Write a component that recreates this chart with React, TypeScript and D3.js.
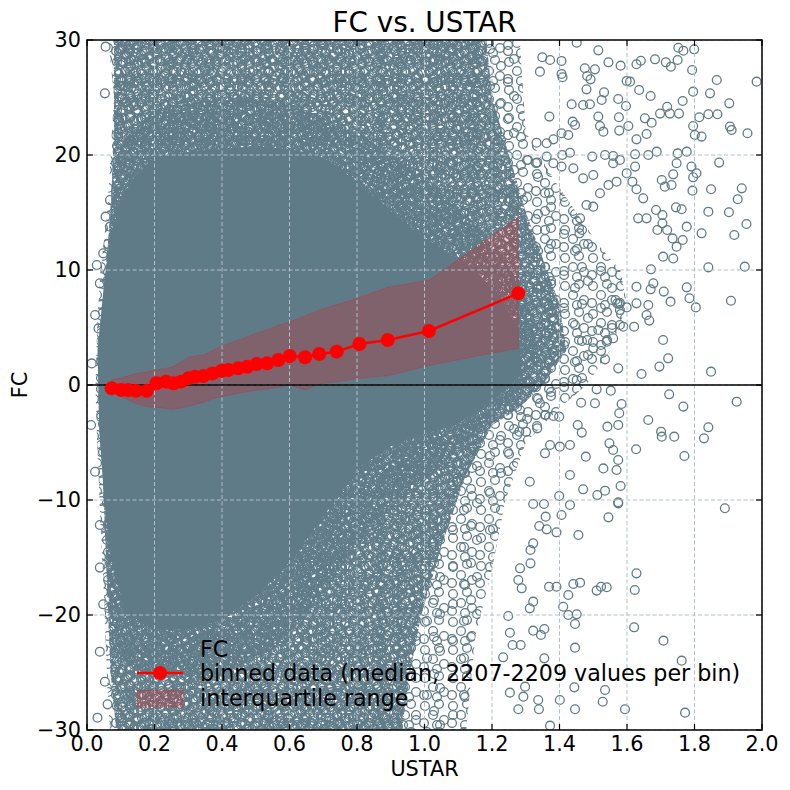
import * as d3 from 'd3';
import React from 'react';

// binned medians and quartiles
const USTAR_BIN = [0.073, 0.101, 0.122, 0.145, 0.177, 0.206, 0.234, 0.256, 0.278, 0.3, 0.32, 0.345, 0.372, 0.399, 0.419, 0.448, 0.475, 0.503, 0.534, 0.567, 0.601, 0.646, 0.688, 0.74, 0.807, 0.891, 1.013, 1.278];
const FC_MEDIAN = [-0.29, -0.43, -0.43, -0.5, -0.5, 0.15, 0.29, 0.15, 0.29, 0.58, 0.72, 0.78, 1.01, 1.24, 1.3, 1.45, 1.59, 1.83, 1.89, 2.17, 2.52, 2.41, 2.7, 2.9, 3.57, 3.91, 4.7, 7.97];
const FC_Q25 = [-0.6, -1.0, -1.3, -1.6, -1.9, -1.95, -2.05, -2.12, -2.0, -1.85, -1.7, -1.5, -1.2, -1.0, -0.9, -0.72, -0.6, -0.45, -0.35, -0.2, 0.0, -0.43, 0.1, 0.29, 0.58, 0.8, 1.7, 3.2];
const FC_Q75 = [0.45, 0.6, 0.8, 1.0, 1.15, 1.3, 1.45, 1.6, 2.0, 2.4, 2.55, 2.6, 3.0, 3.35, 3.6, 3.9, 4.2, 4.5, 4.8, 5.2, 5.5, 6.0, 6.5, 7.0, 7.6, 8.5, 9.1, 14.6];

// where the raw points are so many they merge into a solid mass [USTAR, FC]
const CORE_OUTLINE: [number, number][] = [
  [0.04, 3], [0.06, 9], [0.08, 13], [0.11, 16], [0.15, 18], [0.2, 19.5], [0.3, 20], [0.5, 20.5], [0.65, 20],
  [0.75, 18.5], [0.85, 16], [0.95, 13.5], [1.05, 11.5], [1.15, 9.5], [1.22, 7.5], [1.27, 4.5], [1.28, 1],
  [1.2, -1], [1.1, -3], [1.0, -4], [0.9, -5], [0.8, -7], [0.7, -11], [0.6, -15], [0.5, -18], [0.4, -20],
  [0.3, -21], [0.2, -21], [0.12, -19.5], [0.08, -15], [0.06, -10], [0.045, -4],
];
// very thick tangle of rings hugging the core
const INNER_OUTLINE: [number, number][] = [
  [0.04, 0], [0.05, 8], [0.07, 15], [0.1, 21], [0.2, 24], [0.4, 25], [0.6, 24.5], [0.8, 22], [0.95, 19],
  [1.1, 15.5], [1.2, 12.5], [1.3, 8], [1.34, 3], [1.3, 0], [1.2, -3], [1.05, -7], [0.95, -9.5], [0.85, -12],
  [0.75, -16], [0.65, -20], [0.55, -23], [0.4, -25], [0.2, -25.5], [0.1, -24], [0.065, -19], [0.05, -10],
];
// thick tangle of rings
const DENSE_OUTLINE: [number, number][] = [
  [0.08, 31], [1.18, 31], [1.2, 25], [1.25, 20], [1.3, 15], [1.35, 11], [1.4, 7], [1.42, 3], [1.35, 0],
  [1.28, -2], [1.2, -3.5], [1.12, -8], [1.05, -14], [0.99, -20], [0.95, -26], [0.93, -31], [0.09, -31],
  [0.07, -25], [0.06, -18], [0.05, -10], [0.04, 0], [0.05, 8], [0.07, 15], [0.08, 22],
];
// looser rings around it
const MEDIUM_OUTLINE: [number, number][] = [
  [0.06, 31], [1.28, 31], [1.3, 22], [1.38, 18], [1.45, 15], [1.52, 12], [1.58, 10], [1.6, 7], [1.55, 3],
  [1.48, 0], [1.4, -2], [1.3, -5], [1.24, -10], [1.2, -16], [1.15, -22], [1.12, -31], [0.07, -31],
  [0.06, -26], [0.05, -18], [0.04, -12], [0.03, -5], [0.025, 0], [0.03, 5], [0.04, 10], [0.06, 15],
  [0.07, 20], [0.08, 25],
];

// individual points that stand apart [USTAR, FC]
const SPARSE_POINTS: [number, number][] = [
  [1.515, 29.1], [1.451, 29.77], [1.349, 28.5], [1.372, 28.26], [1.406, 28.18], [1.342, 27.25], [1.406, 27.05],
  [1.409, 26.76], [1.475, 27.54], [1.505, 27.45], [1.482, 26.87], [1.492, 26.58], [1.545, 28.06], [1.581, 27.77],
  [1.628, 27.89], [1.641, 28.2], [1.683, 28.32], [1.715, 28.06], [1.73, 27.68], [1.75, 28.26], [1.752, 29.33],
  [1.767, 29.07], [1.799, 29.19], [1.793, 27.39], [1.866, 26.52], [1.984, 26.38], [1.599, 26.44], [1.609, 26.38],
  [1.636, 25.65], [1.67, 25.13], [1.796, 25.51], [1.846, 25.36], [1.903, 24.49], [1.905, 22.47], [1.957, 21.89],
  [1.91, 22.18], [1.841, 23.54], [1.868, 23.54], [1.814, 23.28], [1.796, 22.52], [1.801, 21.74], [1.821, 21.6],
  [1.765, 24.7], [1.719, 24.2], [1.727, 23.6], [1.754, 23.6], [1.698, 23.6], [1.653, 23.19], [1.673, 22.81],
  [1.48, 25.71], [1.532, 25.45], [1.525, 24.78], [1.47, 24.35], [1.49, 24.41], [1.436, 24.41], [1.515, 23.34],
  [1.52, 22.52], [1.53, 22.03], [1.574, 24.87], [1.597, 24.26], [1.577, 22.12], [1.604, 22.52], [1.576, 23.28],
  [1.628, 21.36], [1.658, 21.83], [1.688, 20.29], [1.663, 20.0], [1.624, 20.06], [1.559, 19.91], [1.535, 20.0],
  [1.497, 19.86], [1.431, 20.2], [1.408, 20.0], [1.37, 23.34], [1.439, 22.9], [1.446, 22.61], [1.406, 21.89],
  [1.426, 21.74], [1.382, 21.36], [1.332, 21.07], [1.362, 21.02], [1.334, 19.34], [1.362, 19.86], [1.382, 19.28],
  [1.406, 18.99], [1.441, 18.84], [1.47, 17.97], [1.5, 18.26], [1.559, 19.28], [1.579, 19.57], [1.599, 18.41],
  [1.624, 18.99], [1.569, 17.68], [1.52, 16.67], [1.545, 17.39], [1.48, 15.65], [1.5, 15.51], [1.461, 14.49],
  [1.459, 13.19], [1.616, 17.68], [1.628, 17.02], [1.648, 16.23], [1.703, 17.83], [1.712, 17.25], [1.732, 17.39],
  [1.747, 19.28], [1.75, 20.14], [1.777, 20.29], [1.737, 18.32], [1.791, 18.99], [1.796, 18.06], [1.806, 18.41],
  [1.849, 17.02], [1.873, 19.34], [1.794, 16.9], [1.745, 15.45], [1.762, 15.28], [1.686, 15.22], [1.705, 14.78],
  [1.633, 14.49], [1.658, 14.49], [1.705, 14.06], [1.69, 13.48], [1.719, 13.48], [1.735, 12.75], [1.765, 12.61],
  [1.747, 12.03], [1.821, 13.19], [1.841, 15.07], [1.902, 15.02], [1.94, 17.1], [1.928, 16.15], [1.954, 14.0],
  [1.918, 13.04], [1.777, 13.77],
  [1.841, 10.23], [1.949, 10.29], [1.777, 8.49], [1.785, 7.54], [1.804, 6.75], [1.729, 7.25], [1.709, 8.12],
  [1.908, 7.33], [1.707, 3.91], [1.722, 2.32], [1.696, 1.6], [1.643, 0.96], [1.849, 1.16], [1.574, 1.45],
  [1.535, 2.23], [1.621, 5.07], [1.666, 5.6], [1.658, 6.09], [1.663, 6.96], [1.628, 7.1], [1.599, 6.75],
  [1.579, 6.52], [1.571, 7.1], [1.566, 7.39], [1.579, 5.22], [1.589, 5.07], [1.5, 3.19], [1.515, 4.78],
  [1.54, 3.77], [1.559, 4.06], [1.482, 3.91], [1.451, 0.44], [1.628, 8.55], [1.67, 8.32], [1.678, 8.84],
  [1.707, 11.16], [1.737, 11.0], [1.671, 10.06],
  [1.725, -0.81], [1.767, -1.88], [1.925, -1.45], [1.663, -3.04], [1.701, -4.06], [1.703, -4.49], [1.74, -4.49],
  [1.828, -4.64], [1.841, -3.68], [1.77, -6.17], [1.627, -5.59], [1.574, -3.48], [1.577, -2.46], [1.584, -1.65],
  [1.552, -0.49], [1.51, -0.38], [1.505, -1.59], [1.464, -1.54], [1.454, -3.48], [1.466, -4.14], [1.542, -3.62],
  [1.548, -5.07], [1.559, -5.65], [1.574, -6.52], [1.569, -7.39], [1.53, -7.25], [1.478, -6.23], [1.431, -7.83],
  [1.401, -5.36], [1.431, -5.22], [1.372, -5.22], [1.357, -5.94], [1.312, -8.41], [1.47, -9.07], [1.512, -9.57],
  [1.535, -9.19], [1.581, -8.78], [1.574, -10.2], [1.399, -9.65], [1.89, -10.72], [1.283, -2.17], [1.334, -3.77],
  [1.281, -4.06], [1.301, -4.06], [1.382, -2.7], [1.399, -2.75], [1.359, -2.61], [1.342, -1.59],
  [1.545, -11.51], [1.574, -10.29], [1.431, -10.43], [1.406, -11.3], [1.456, -13.04], [1.391, -12.81],
  [1.362, -12.55], [1.34, -12.26], [1.359, -11.45], [1.322, -10.35], [1.354, -10.35], [1.628, -16.38],
  [1.623, -17.83], [1.461, -17.19], [1.441, -17.3], [1.391, -17.54], [1.369, -17.54], [1.51, -17.88],
  [1.523, -17.54], [1.54, -17.59], [1.426, -18.26], [1.411, -19.28], [1.426, -20.0], [1.451, -19.94],
  [1.446, -20.78], [1.446, -22.84], [1.444, -26.29], [1.446, -28.2], [1.401, -27.39], [1.337, -27.39],
  [1.339, -28.2], [1.372, -29.62], [1.278, -28.2], [1.355, -23.77], [1.322, -21.36], [1.345, -21.74],
  [1.355, -21.22], [1.312, -19.42], [1.322, -18.84], [1.314, -15.51], [1.278, -16.96], [1.288, -17.68],
  [1.322, -13.77], [1.314, -14.35], [1.283, -15.94], [1.285, -22.61], [1.253, -26.75], [1.233, -23.68],
  [1.253, -21.54], [1.261, -22.61], [1.248, -20.09], [1.298, -26.23], [1.293, -27.1], [1.535, -26.52],
  [1.528, -27.54], [1.594, -28.2], [1.772, -28.49], [1.762, -23.97], [1.708, -22.23], [1.621, -21.07],
  [0.055, 29.42], [0.053, 25.36], [0.029, 10.43], [0.093, 29.9], [0.118, 28.75], [0.101, 26.02], [0.093, 23.18],
  [0.093, 21.88], [0.091, 20.29], [0.068, 16.08], [0.055, 14.64], [0.068, 13.77], [0.048, 11.45], [0.038, 8.84],
  [0.024, 6.09], [0.014, 1.88], [0.034, 4.92], [0.038, -15.88], [0.048, -19.07], [0.038, -23.19],
  [0.053, -25.8], [0.031, -28.93], [0.061, -27.77], [0.012, -3.48], [0.024, -7.54], [0.038, -12.17],
];

const X_TICKS = [0, 0.2, 0.4, 0.6, 0.8, 1.0, 1.2, 1.4, 1.6, 1.8, 2.0];
const Y_TICKS = [-30, -20, -10, 0, 10, 20, 30];

const W = 790;
const H = 790;
const M = { left: 87, right: 762, top: 40, bottom: 730 };
const POINT_COLOR = '#5f7b88';
const GRID_COLOR = '#b3c1c9';
const FONT = '"DejaVu Sans", sans-serif';
const RING_R = 4.4;

// ring offsets for the texture tiles (style only)
type Tile = { size: number; rings: number[][] };
const TILE_A: Tile = { size: 16, rings: [[2, 3], [9, 1], [13, 7], [6, 9], [1, 13], [10, 14]] };
const TILE_B: Tile = { size: 23, rings: [[4, 5], [15, 3], [19, 14], [8, 17], [12, 10]] };
const TILE_C: Tile = { size: 19, rings: [[3, 15], [8, 4], [14, 11], [17, 2], [1, 7]] };
const TILE_D: Tile = { size: 13, rings: [[2, 2], [8, 6], [4, 10], [11, 12]] };
const TILE_M1: Tile = { size: 28, rings: [[5, 6], [19, 4], [13, 15], [24, 20], [4, 23], [17, 25]] };
const TILE_M2: Tile = { size: 37, rings: [[9, 12], [27, 8], [20, 29], [33, 22]] };

function RingPattern({ id, tile }: { id: string; tile: Tile }) {
  const s = tile.size;
  const shifts = [-s, 0, s];
  return (
    <pattern id={id} width={s} height={s} patternUnits="userSpaceOnUse">
      {tile.rings.flatMap(([cx, cy], i) =>
        shifts.flatMap((dx) =>
          shifts.map((dy) => (
            <circle key={`${i}-${dx}-${dy}`} cx={cx + dx} cy={cy + dy} r={RING_R}
              fill="none" stroke={POINT_COLOR} strokeWidth={1.3} />
          ))
        )
      )}
    </pattern>
  );
}

export default function App() {
  const x = d3.scaleLinear().domain([0, 2]).range([M.left, M.right]);
  const y = d3.scaleLinear().domain([-30, 30]).range([M.bottom, M.top]);

  const outline = d3.line<[number, number]>()
    .x((d) => x(d[0]))
    .y((d) => y(d[1]))
    .curve(d3.curveLinearClosed);

  const band = d3.area<number>()
    .x((_, i) => x(USTAR_BIN[i]))
    .y0((_, i) => y(FC_Q25[i]))
    .y1((_, i) => y(FC_Q75[i]));

  const medLine = d3.line<number>()
    .x((_, i) => x(USTAR_BIN[i]))
    .y((d) => y(d));

  const fmtY = (v: number) => (v < 0 ? `\u2212${Math.abs(v)}` : `${v}`);

  const medium = outline(MEDIUM_OUTLINE) ?? '';
  const dense = outline(DENSE_OUTLINE) ?? '';
  const inner = outline(INNER_OUTLINE) ?? '';

  const legendX = 137;
  const legendTextX = 200;

  return (
    <svg width={W} height={H} style={{ position: 'absolute', left: 0, top: 0, background: 'white' }}
      fontFamily={FONT}>
      <defs>
        <clipPath id="plot">
          <rect x={M.left} y={M.top} width={M.right - M.left} height={M.bottom - M.top} />
        </clipPath>
        <RingPattern id="rA" tile={TILE_A} />
        <RingPattern id="rB" tile={TILE_B} />
        <RingPattern id="rC" tile={TILE_C} />
        <RingPattern id="rD" tile={TILE_D} />
        <RingPattern id="rM1" tile={TILE_M1} />
        <RingPattern id="rM2" tile={TILE_M2} />
      </defs>

      <g clipPath="url(#plot)">
        <path d={medium} fill="url(#rM1)" />
        <path d={medium} fill="url(#rM2)" />
        <path d={dense} fill="url(#rA)" />
        <path d={dense} fill="url(#rB)" />
        <path d={dense} fill="url(#rC)" />
        <path d={inner} fill="url(#rD)" />
        <path d={outline(CORE_OUTLINE) ?? ''} fill={POINT_COLOR} stroke={POINT_COLOR} strokeWidth={6}
          strokeLinejoin="round" />
        {SPARSE_POINTS.map(([u, fc], i) => (
          <circle key={i} cx={x(u)} cy={y(fc)} r={RING_R} fill="none" stroke={POINT_COLOR} strokeWidth={1.3} />
        ))}

        <path d={band(FC_MEDIAN) ?? ''} fill="#ff0000" fillOpacity={0.2} stroke="#ff0000" strokeOpacity={0.2} />

        {X_TICKS.map((t) => (
          <line key={`gx${t}`} x1={x(t)} x2={x(t)} y1={M.top} y2={M.bottom} stroke={GRID_COLOR}
            strokeWidth={1} strokeDasharray="4,2.5" />
        ))}
        {Y_TICKS.map((t) => (
          <line key={`gy${t}`} x1={M.left} x2={M.right} y1={y(t)} y2={y(t)} stroke={GRID_COLOR}
            strokeWidth={1} strokeDasharray="4,2.5" />
        ))}

        <line x1={M.left} x2={M.right} y1={y(0)} y2={y(0)} stroke="black" strokeWidth={1.3} />

        <path d={medLine(FC_MEDIAN) ?? ''} fill="none" stroke="#ff0000" strokeWidth={2.5} />
        {FC_MEDIAN.map((v, i) => (
          <circle key={`m${i}`} cx={x(USTAR_BIN[i])} cy={y(v)} r={7} fill="#ff0000" />
        ))}
      </g>

      {/* frame and inward ticks */}
      <rect x={M.left} y={M.top} width={M.right - M.left} height={M.bottom - M.top} fill="none"
        stroke="black" strokeWidth={1.5} />
      {X_TICKS.map((t) => (
        <g key={`tx${t}`}>
          <line x1={x(t)} x2={x(t)} y1={M.bottom} y2={M.bottom - 6} stroke="black" strokeWidth={1.2} />
          <line x1={x(t)} x2={x(t)} y1={M.top} y2={M.top + 6} stroke="black" strokeWidth={1.2} />
          <text x={x(t)} y={751} textAnchor="middle" fontSize={20.8}>{t.toFixed(1)}</text>
        </g>
      ))}
      {Y_TICKS.map((t) => (
        <g key={`ty${t}`}>
          <line x1={M.left} x2={M.left + 6} y1={y(t)} y2={y(t)} stroke="black" strokeWidth={1.2} />
          <line x1={M.right} x2={M.right - 6} y1={y(t)} y2={y(t)} stroke="black" strokeWidth={1.2} />
          <text x={81} y={y(t)} dy="0.36em" textAnchor="end" fontSize={20.8}>{fmtY(t)}</text>
        </g>
      ))}

      <text x={(M.left + M.right) / 2} y={32} textAnchor="middle" fontSize={27.8}>FC vs. USTAR</text>
      <text x={(M.left + M.right) / 2} y={776} textAnchor="middle" fontSize={20.8}>USTAR</text>
      <text transform={`translate(27,${(M.top + M.bottom) / 2}) rotate(-90)`} textAnchor="middle"
        fontSize={20.8}>FC</text>

      {/* legend */}
      <g fontSize={22.2}>
        <circle cx={legendX + 23} cy={649} r={RING_R} fill="none" stroke={POINT_COLOR} strokeWidth={1.3} />
        <text x={legendTextX} y={657}>FC</text>
        <line x1={legendX} x2={legendX + 46} y1={673} y2={673} stroke="#ff0000" strokeWidth={2.5} />
        <circle cx={legendX + 23} cy={673} r={7} fill="#ff0000" />
        <text x={legendTextX} y={681}>binned data (median, 2207-2209 values per bin)</text>
        <rect x={legendX} y={690} width={46} height={17} fill="#ff0000" fillOpacity={0.2} stroke="#ff0000"
          strokeOpacity={0.2} />
        <text x={legendTextX} y={706}>interquartile range</text>
      </g>
    </svg>
  );
}
